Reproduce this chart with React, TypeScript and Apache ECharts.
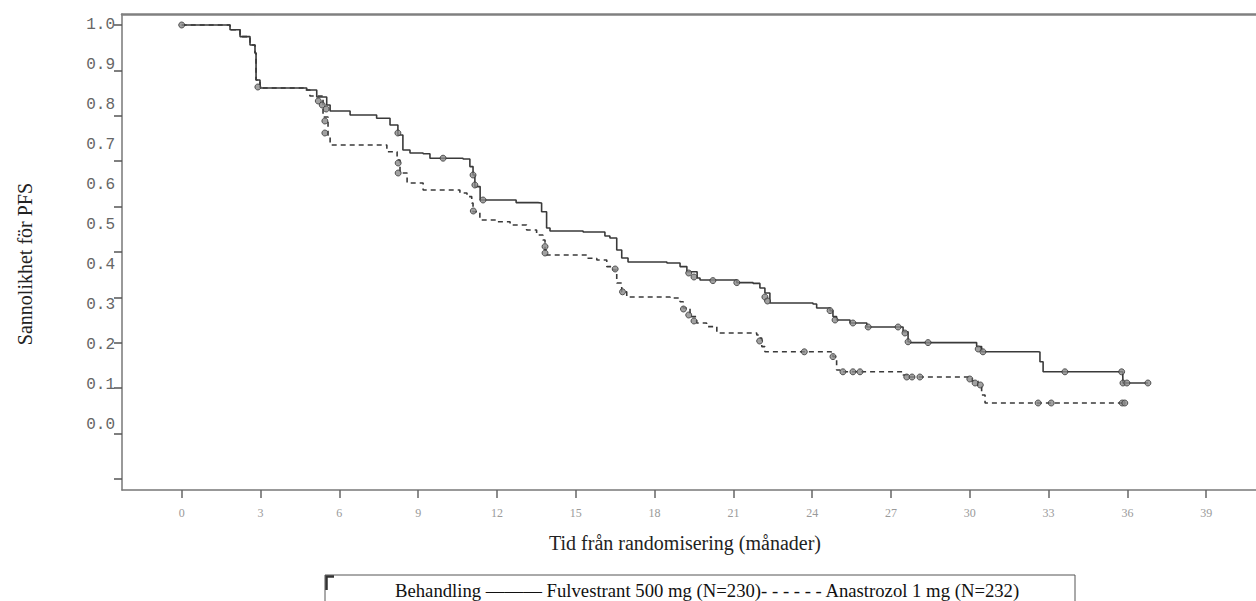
import React, { useEffect, useRef } from "react";
import * as echarts from "echarts";

// Kaplan-Meier curves: [months, probability]
const fulvestrantCurve: [number, number][] = [
  [0, 1.0], [1.38, 1.0], [1.84, 0.988], [2.22, 0.971], [2.6, 0.95], [2.79, 0.93], [2.83, 0.8625], [2.98, 0.8425],
  [4.76, 0.8375], [5.14, 0.82], [5.52, 0.8], [5.65, 0.785], [6.41, 0.775], [7.42, 0.767], [7.93, 0.75], [8.23, 0.725],
  [8.42, 0.6875], [8.69, 0.68], [9.19, 0.678], [9.45, 0.667], [10.71, 0.665], [10.97, 0.646], [11.09, 0.625],
  [11.16, 0.596], [11.36, 0.5625], [12.61, 0.5625], [12.73, 0.556], [13.56, 0.555], [13.7, 0.533], [13.89, 0.4925],
  [14.02, 0.485], [15.28, 0.4825], [16.11, 0.4725], [16.3, 0.4675], [16.56, 0.4375], [16.75, 0.4175], [16.99, 0.4075],
  [18.47, 0.405], [18.97, 0.396], [19.23, 0.383], [19.62, 0.3675], [19.73, 0.3625], [21.13, 0.356], [21.75, 0.354],
  [22.01, 0.3425], [22.2, 0.33], [22.39, 0.305], [24.03, 0.3025], [24.17, 0.2925], [24.68, 0.286], [24.79, 0.271],
  [24.93, 0.2625], [25.44, 0.255], [26.08, 0.245], [27.22, 0.245], [27.46, 0.233], [27.65, 0.208], [27.72, 0.206],
  [30.2, 0.206], [30.26, 0.196], [30.45, 0.183], [32.6, 0.1825], [32.67, 0.158], [32.79, 0.133], [35.82, 0.133],
  [35.83, 0.105], [36.78, 0.105],
];

const anastrozolCurve: [number, number][] = [
  [0, 1.0], [1.38, 1.0], [1.84, 0.988], [2.22, 0.971], [2.6, 0.95], [2.79, 0.93], [2.83, 0.8625], [2.98, 0.8425],
  [4.63, 0.8375], [4.88, 0.8225], [5.38, 0.77], [5.57, 0.72], [5.65, 0.7], [7.28, 0.7], [7.81, 0.683], [8.2, 0.6625],
  [8.31, 0.63], [8.58, 0.605], [9.19, 0.5875], [10.1, 0.5875], [10.59, 0.58], [10.86, 0.571], [11.04, 0.555],
  [11.09, 0.533], [11.35, 0.5125], [11.99, 0.508], [12.5, 0.5], [13.13, 0.4875], [13.51, 0.475], [13.75, 0.4625],
  [13.83, 0.4375], [13.89, 0.425], [15.42, 0.417], [15.8, 0.4125], [16.18, 0.396], [16.42, 0.3875], [16.56, 0.355],
  [16.75, 0.333], [16.94, 0.32], [18.59, 0.3175], [18.97, 0.308], [19.09, 0.2925], [19.35, 0.271], [19.6, 0.255],
  [19.98, 0.246], [20.37, 0.23], [21.89, 0.225], [22.01, 0.2175], [22.08, 0.196], [22.2, 0.183], [24.68, 0.1825],
  [24.79, 0.171], [24.93, 0.1375], [25.06, 0.133], [27.22, 0.133], [27.46, 0.125], [27.72, 0.12], [29.93, 0.12],
  [30.08, 0.11], [30.31, 0.0975], [30.45, 0.075], [30.58, 0.055], [35.87, 0.055],
];

// censored observations (markers)
const fulvestrantCensored: [number, number][] = [
  [0, 1.0], [2.9, 0.845], [5.2, 0.81], [5.35, 0.8], [5.5, 0.79], [8.23, 0.73], [9.95, 0.667], [11.09, 0.625],
  [11.16, 0.6], [11.47, 0.5625], [19.3, 0.38], [19.5, 0.37], [20.22, 0.361], [21.13, 0.356], [22.2, 0.32],
  [22.3, 0.31], [24.68, 0.286], [24.87, 0.2625], [25.55, 0.255], [26.13, 0.245], [27.27, 0.245], [27.53, 0.23],
  [27.65, 0.208], [28.41, 0.206], [30.32, 0.19], [30.5, 0.183], [33.62, 0.133], [35.78, 0.133], [35.83, 0.105],
  [35.98, 0.105], [36.78, 0.105],
];

const anastrozolCensored: [number, number][] = [
  [5.45, 0.76], [5.45, 0.73], [8.24, 0.655], [8.24, 0.63], [11.1, 0.535], [13.83, 0.446], [13.83, 0.43],
  [16.5, 0.39], [16.78, 0.333], [19.1, 0.29], [19.3, 0.275], [19.5, 0.26], [22.0, 0.21], [23.7, 0.183],
  [24.79, 0.171], [25.17, 0.133], [25.55, 0.133], [25.82, 0.133], [27.6, 0.12], [27.8, 0.12], [28.1, 0.12],
  [30.0, 0.115], [30.2, 0.105], [30.4, 0.1], [32.6, 0.055], [33.1, 0.055], [35.8, 0.055], [35.9, 0.055],
];

const xTickValues = [0, 3, 6, 9, 12, 15, 18, 21, 24, 27, 30, 33, 36, 39];
const yLabelValues = [0, 0.1, 0.2, 0.3, 0.4, 0.5, 0.6, 0.7, 0.8, 0.9, 1.0];
// tick marks on the y axis do not coincide with the labels in the source picture
const yTickValues = [1.0, 0.8865, 0.773, 0.6595, 0.546, 0.4325, 0.319, 0.2055, 0.092, -0.0215, -0.135];

const seriesNames = ["Fulvestrant 500 mg (N=230)", "Anastrozol 1 mg (N=232)"];
const axisTitleX = "Tid från randomisering (månader)";
const axisTitleY = "Sannolikhet för PFS";
const legendText = "Behandling ——— Fulvestrant 500 mg (N=230)- - - - - - Anastrozol 1 mg (N=232)";

export default function App() {
  const ref = useRef<HTMLDivElement>(null);
  useEffect(() => {
    if (!ref.current) return;
    const chart = echarts.init(ref.current, null, { renderer: "svg" });
    const serif = "'Liberation Serif', 'Times New Roman', serif";
    const markerStyle = { color: "#8a8a8a", borderColor: "#333", borderWidth: 1 };
    chart.setOption({
      animation: false,
      backgroundColor: "#fff",
      grid: { left: 122, right: 0, top: 14, bottom: 111, show: false },
      xAxis: [
        {
          type: "value",
          min: -2.2725,
          max: 40.894,
          splitLine: { show: false },
          axisLine: { show: true, onZero: false, lineStyle: { color: "#777", width: 1.5 } },
          axisTick: { show: true, length: 8, customValues: xTickValues, lineStyle: { color: "#666", width: 1.5 } },
          axisLabel: {
            customValues: xTickValues,
            margin: 17,
            fontSize: 12,
            fontFamily: serif,
            color: "#9a9a9a",
          },
        },
        {
          type: "value",
          position: "top",
          min: -2.2725,
          max: 40.894,
          splitLine: { show: false },
          axisLine: { show: true, onZero: false, lineStyle: { color: "#808080", width: 2.5 } },
          axisTick: { show: false },
          axisLabel: { show: false },
        },
      ],
      yAxis: {
        type: "value",
        min: -0.1625,
        max: 1.0275,
        splitLine: { show: false },
        axisLine: { show: true, onZero: false, lineStyle: { color: "#777", width: 1.5 } },
        axisTick: { show: true, length: 8, customValues: yTickValues, lineStyle: { color: "#555", width: 1.5 } },
        axisLabel: {
          customValues: yLabelValues,
          margin: 7,
          fontSize: 16,
          fontFamily: "'Liberation Mono', 'Courier New', monospace",
          color: "#666",
          formatter: (v: number) => v.toFixed(1),
        },
      },
      series: [
        {
          name: seriesNames[0],
          type: "line",
          step: "end",
          data: fulvestrantCurve,
          showSymbol: false,
          lineStyle: { color: "#3a3a3a", width: 1.6, type: "solid" },
          z: 3,
        },
        {
          name: seriesNames[1],
          type: "line",
          step: "end",
          data: anastrozolCurve,
          showSymbol: false,
          lineStyle: { color: "#3a3a3a", width: 1.6, type: [5, 4] },
          z: 2,
        },
        {
          name: seriesNames[0] + " censurerad",
          type: "scatter",
          data: fulvestrantCensored,
          symbol: "circle",
          symbolSize: 6,
          itemStyle: markerStyle,
          z: 4,
        },
        {
          name: seriesNames[1] + " censurerad",
          type: "scatter",
          data: anastrozolCensored,
          symbol: "circle",
          symbolSize: 6,
          itemStyle: markerStyle,
          z: 4,
        },
      ],
      graphic: [
        {
          type: "text",
          x: 25,
          y: 264,
          rotation: Math.PI / 2,
          style: {
            text: axisTitleY,
            fontSize: 20,
            fontFamily: serif,
            fill: "#222",
            align: "center",
            verticalAlign: "middle",
          },
        },
        {
          type: "text",
          x: 685,
          y: 543,
          style: {
            text: axisTitleX,
            fontSize: 20,
            fontFamily: serif,
            fill: "#222",
            align: "center",
            verticalAlign: "middle",
          },
        },
        {
          type: "rect",
          shape: { x: 325, y: 575, width: 750, height: 40 },
          style: { fill: "#fff", stroke: "#555", lineWidth: 1 },
        },
        {
          type: "polyline",
          shape: { points: [[326.5, 590], [326.5, 576.5], [334, 576.5]] },
          style: { stroke: "#333", lineWidth: 2.5, fill: null },
        },
        {
          type: "text",
          x: 395,
          y: 590,
          style: {
            text: legendText,
            fontSize: 18.7,
            fontFamily: serif,
            fill: "#111",
            align: "left",
            verticalAlign: "middle",
          },
        },
      ],
    });
    return () => chart.dispose();
  }, []);
  return (
    <div
      ref={ref}
      style={{ position: "absolute", left: 0, top: 0, width: 1256, height: 601 }}
    />
  );
}
